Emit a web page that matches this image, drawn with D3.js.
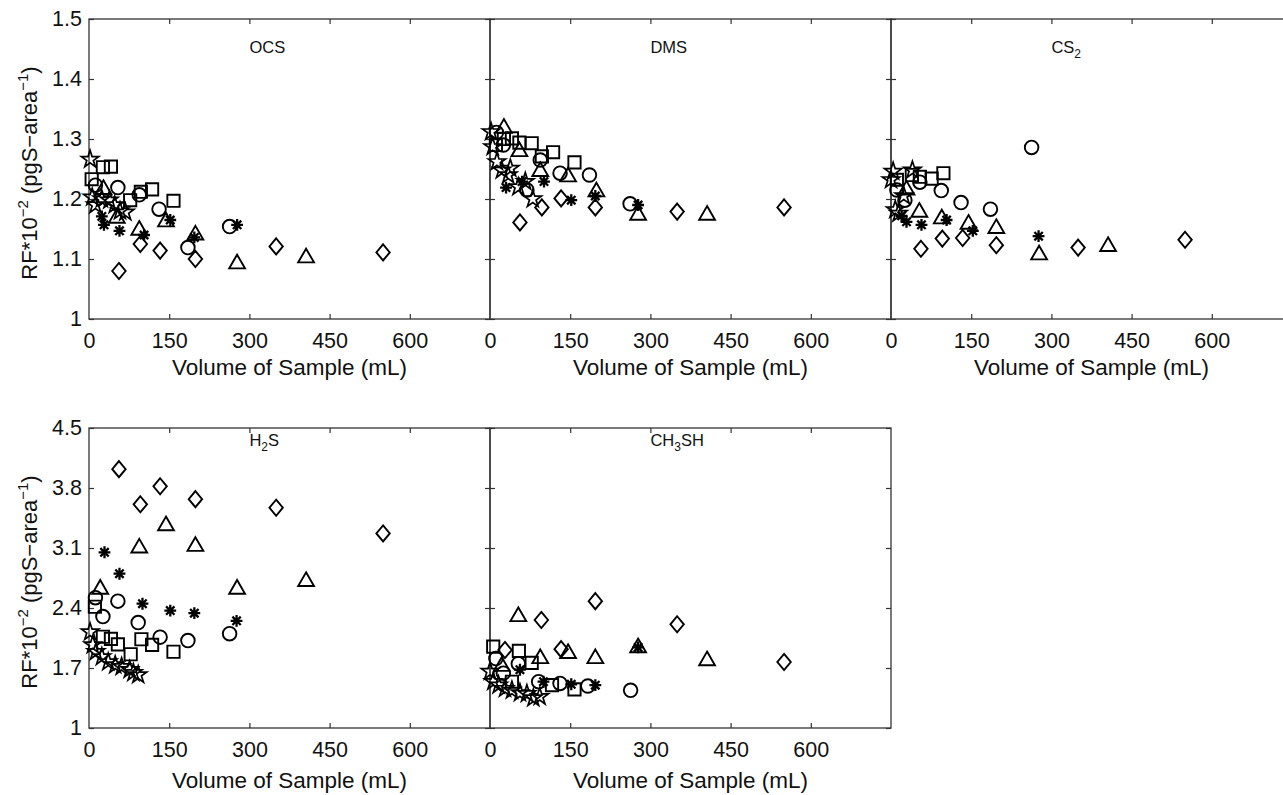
<!DOCTYPE html>
<html>
<head>
<meta charset="utf-8">
<script src="https://cdn.jsdelivr.net/npm/d3@7"></script>
<style>
  body { margin: 0; background: #fff; }
  svg text { font-family: "Liberation Sans", Arial, Helvetica, sans-serif; fill: #111; }
</style>
</head>
<body>
<script>
// volume (mL) , RF*10^-2, one array per marker per compound
var ocsStar     = [[2,1.266],[6,1.203],[12,1.19],[24,1.2],[38,1.198],[48,1.19],[58,1.18],[68,1.178]];
var ocsSquare   = [[5,1.233],[26,1.253],[41,1.254],[77,1.198],[97,1.212],[118,1.216],[158,1.197]];
var ocsCircle   = [[12,1.223],[54,1.219],[94,1.207],[131,1.183],[185,1.119],[263,1.154]];
var ocsTriangle = [[27,1.216],[52,1.168],[94,1.148],[144,1.162],[199,1.14],[277,1.092],[406,1.102]];
var ocsAster    = [[24,1.171],[28,1.157],[57,1.147],[103,1.14],[152,1.165],[197,1.136],[277,1.157]];
var ocsDiamond  = [[56,1.080],[96,1.125],[133,1.114],[199,1.10],[350,1.121],[550,1.111]];

var dmsStar     = [[2,1.312],[5,1.287],[13,1.262],[22,1.248],[34,1.24],[38,1.251],[53,1.22],[66,1.229],[80,1.2]];
var dmsSquare   = [[11,1.29],[26,1.30],[41,1.301],[55,1.294],[78,1.293],[97,1.271],[118,1.278],[158,1.261]];
var dmsCircle   = [[12,1.311],[25,1.29],[69,1.215],[94,1.265],[131,1.243],[186,1.24],[262,1.192]];
var dmsTriangle = [[26,1.318],[55,1.279],[94,1.246],[146,1.237],[199,1.212],[277,1.173],[406,1.173]];
var dmsAster    = [[30,1.219],[60,1.229],[101,1.229],[152,1.198],[197,1.205],[277,1.19]];
var dmsDiamond  = [[56,1.161],[97,1.186],[133,1.201],[197,1.186],[350,1.179],[550,1.186]];

var cs2Star     = [[0,1.232],[4,1.246],[8,1.182],[14,1.176],[24,1.205],[40,1.248]];
var cs2Square   = [[11,1.232],[39,1.24],[54,1.237],[76,1.234],[98,1.243]];
var cs2Circle   = [[11,1.215],[26,1.198],[54,1.228],[94,1.214],[131,1.194],[186,1.183],[263,1.286]];
var cs2Triangle = [[29,1.215],[53,1.178],[95,1.167],[145,1.158],[197,1.151],[277,1.107],[406,1.121]];
var cs2Aster    = [[20,1.172],[29,1.162],[57,1.157],[104,1.165],[153,1.147],[276,1.138]];
var cs2Diamond  = [[56,1.117],[96,1.134],[134,1.135],[197,1.123],[350,1.119],[550,1.132]];

var h2sStar     = [[2,2.12],[7,1.97],[13,1.89],[24,1.83],[36,1.77],[49,1.735],[61,1.715],[76,1.68],[83,1.645],[92,1.62]];
var h2sSquare   = [[11,2.415],[26,2.065],[41,2.04],[54,1.976],[78,1.86],[98,2.035],[118,1.97],[158,1.89]];
var h2sCircle   = [[12,2.52],[26,2.30],[54,2.48],[92,2.23],[133,2.06],[185,2.02],[263,2.10]];
var h2sTriangle = [[21,2.62],[94,3.10],[144,3.36],[199,3.12],[277,2.62],[406,2.71]];
var h2sAster    = [[29,3.05],[57,2.80],[100,2.45],[152,2.37],[197,2.34],[276,2.25]];
var h2sDiamond  = [[56,4.02],[96,3.61],[133,3.82],[199,3.67],[350,3.57],[550,3.27]];

var mesStar     = [[0,1.66],[6,1.54],[16,1.50],[28,1.46],[41,1.44],[56,1.41],[69,1.40],[81,1.35],[93,1.365]];
var mesSquare   = [[6,1.95],[41,1.54],[54,1.90],[78,1.76],[116,1.50],[158,1.45]];
var mesCircle   = [[11,1.81],[25,1.64],[53,1.75],[91,1.54],[131,1.52],[183,1.49],[263,1.44]];
var mesTriangle = [[22,1.72],[53,2.30],[94,1.81],[146,1.87],[197,1.81],[277,1.937],[406,1.785]];
var mesAster    = [[56,1.68],[100,1.54],[152,1.51],[197,1.50],[277,1.94]];
var mesDiamond  = [[28,1.91],[96,2.26],[133,1.92],[197,2.48],[350,2.21],[550,1.77]];

var compounds = ["OCS", "DMS", "CS2", "H2S", "CH3SH"];
var xTicks = [0, 150, 300, 450, 600];
var yTicksTop = [1, 1.1, 1.2, 1.3, 1.4, 1.5];
var yTicksBottom = [1, 1.7, 2.4, 3.1, 3.8, 4.5];

// layout
var W = 1283, H = 795;
var colLeft = [89, 490, 891], plotW = 401;
var rowTop = [19, 428], plotH = 300;
var titleOffset = [56, 60];
var xMax = 750;
var nameY = [1.45, 4.34]; // where the compound names sit (data units)

// marker shapes
var tallDiamond = { draw: function (ctx, size) {
  var w = Math.sqrt(size) / 2, h = w * 1.2;
  ctx.moveTo(0, -h); ctx.lineTo(w, 0); ctx.lineTo(0, h); ctx.lineTo(-w, 0); ctx.closePath();
}};
var asterisk8 = { draw: function (ctx, size) {
  var r = Math.sqrt(size) / 2;
  for (var i = 0; i < 4; i++) {
    var a = i * Math.PI / 4;
    ctx.moveTo(r * Math.cos(a), r * Math.sin(a));
    ctx.lineTo(-r * Math.cos(a), -r * Math.sin(a));
  }
}};
var markers = [
  { type: d3.symbolStar, size: 92, sw: 1.7 },
  { type: d3.symbolSquare, size: 150, sw: 1.9 },
  { type: d3.symbolCircle, size: 145, sw: 1.9 },
  { type: d3.symbolTriangle, size: 108, sw: 1.9 },
  { type: asterisk8, size: 140, sw: 2.3 },
  { type: tallDiamond, size: 180, sw: 1.9 }
];

var panels = [
  { row: 0, col: 0, series: [ocsStar, ocsSquare, ocsCircle, ocsTriangle, ocsAster, ocsDiamond] },
  { row: 0, col: 1, series: [dmsStar, dmsSquare, dmsCircle, dmsTriangle, dmsAster, dmsDiamond] },
  { row: 0, col: 2, series: [cs2Star, cs2Square, cs2Circle, cs2Triangle, cs2Aster, cs2Diamond] },
  { row: 1, col: 0, series: [h2sStar, h2sSquare, h2sCircle, h2sTriangle, h2sAster, h2sDiamond] },
  { row: 1, col: 1, series: [mesStar, mesSquare, mesCircle, mesTriangle, mesAster, mesDiamond] }
];

var svg = d3.select("body").append("svg").attr("width", W).attr("height", H);
var fmt = d3.format("~g");
var frameColor = "#333";

panels.forEach(function (p, i) {
  var left = colLeft[p.col], top = rowTop[p.row], bottom = top + plotH, right = left + plotW;
  var yTicks = p.row === 0 ? yTicksTop : yTicksBottom;
  var x = d3.scaleLinear().domain([0, xMax]).range([left, right]);
  var y = d3.scaleLinear().domain([yTicks[0], yTicks[yTicks.length - 1]]).range([bottom, top]);
  var g = svg.append("g");

  // frame
  g.append("rect").attr("x", left).attr("y", top).attr("width", plotW).attr("height", plotH)
    .attr("fill", "none").attr("stroke", frameColor).attr("stroke-width", 1.3);

  // inward ticks on all four sides
  var xb = g.append("g").attr("transform", "translate(0," + bottom + ")")
    .call(d3.axisBottom(x).tickValues(xTicks).tickFormat(fmt).tickSizeInner(-5).tickSizeOuter(0).tickPadding(14));
  var xt = g.append("g").attr("transform", "translate(0," + top + ")")
    .call(d3.axisTop(x).tickValues(xTicks).tickFormat("").tickSizeInner(-5).tickSizeOuter(0));
  var yl = g.append("g").attr("transform", "translate(" + left + ",0)")
    .call(d3.axisLeft(y).tickValues(yTicks).tickFormat(p.col === 0 ? fmt : "").tickSizeInner(-5).tickSizeOuter(0).tickPadding(7));
  var yr = g.append("g").attr("transform", "translate(" + right + ",0)")
    .call(d3.axisRight(y).tickValues(yTicks).tickFormat("").tickSizeInner(-5).tickSizeOuter(0));
  [xb, xt, yl, yr].forEach(function (a) {
    a.select(".domain").remove();
    a.selectAll(".tick line").attr("stroke", frameColor).attr("stroke-width", 1.2);
    a.selectAll(".tick text").attr("fill", "#111").style("font-size", "21.5px")
      .style("font-family", '"Liberation Sans", Arial, sans-serif');
  });
  xb.selectAll(".tick line").filter(function (d) { return d === 0; }).remove();
  xt.selectAll(".tick line").filter(function (d) { return d === 0; }).remove();

  // x axis title
  g.append("text").attr("x", (left + right) / 2).attr("y", bottom + titleOffset[p.row])
    .attr("text-anchor", "middle").style("font-size", "22.5px").text("Volume of Sample (mL)");

  // compound name, digits as subscripts
  var nm = g.append("text").attr("x", x(300)).attr("y", y(nameY[p.row]))
    .attr("dominant-baseline", "middle").style("font-size", "16.5px");
  var shifted = false;
  compounds[i].split(/(\d)/).filter(function (s) { return s.length; }).forEach(function (s) {
    if (/\d/.test(s)) {
      nm.append("tspan").attr("dy", 6).style("font-size", "12px").text(s);
      shifted = true;
    } else {
      nm.append("tspan").attr("dy", shifted ? -6 : 0).text(s);
      shifted = false;
    }
  });

  // markers
  p.series.forEach(function (data, k) {
    var m = markers[k];
    g.append("g").selectAll("path").data(data).enter().append("path")
      .attr("transform", function (d) { return "translate(" + x(d[0]) + "," + y(d[1]) + ")"; })
      .attr("d", d3.symbol().type(m.type).size(m.size)())
      .attr("fill", "none").attr("stroke", "#000").attr("stroke-width", m.sw)
      .attr("stroke-linejoin", "miter");
  });
});

// y axis labels
rowTop.forEach(function (top) {
  var t = svg.append("text").attr("transform", "translate(37," + (top + plotH / 2 + 4) + ") rotate(-90)")
    .attr("text-anchor", "middle").style("font-size", "22px");
  t.append("tspan").text("RF*10");
  t.append("tspan").attr("dy", -9).style("font-size", "15px").text("\u22122");
  t.append("tspan").attr("dy", 9).text(" (pgS\u2212area");
  t.append("tspan").attr("dy", -9).style("font-size", "15px").text("\u22121");
  t.append("tspan").attr("dy", 9).text(")");
});
</script>
</body>
</html>
